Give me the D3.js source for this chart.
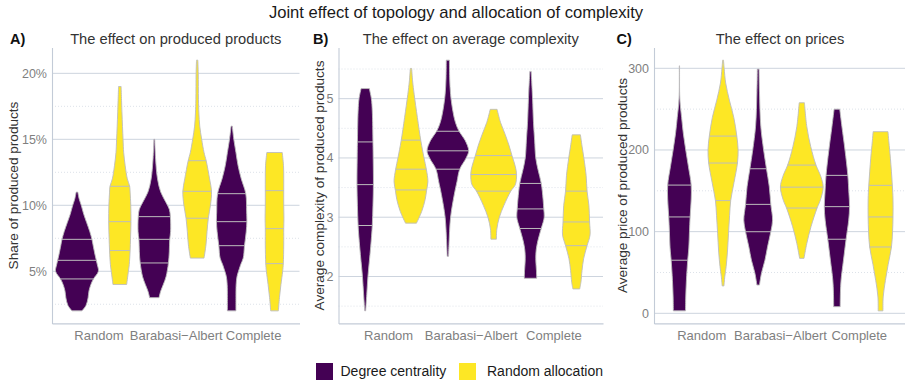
<!DOCTYPE html>
<html>
<head>
<meta charset="utf-8">
<script src="https://cdn.jsdelivr.net/npm/d3@7"></script>
<style>
  html, body { margin: 0; padding: 0; background: #ffffff; }
  svg { display: block; font-family: "Liberation Sans", Arial, Helvetica, sans-serif; }
</style>
</head>
<body>
<svg id="chart" width="905" height="381"></svg>
<script>
// ---- data -------------------------------------------------------------
const categories = ["Random", "Barabasi\u2212Albert", "Complete"];
const groups = ["Degree centrality", "Random allocation"];
const groupColors = ["#440154", "#FDE725"];

// Violin outlines: [value, relative half-width] from bottom to top, one list per category.
// Quartiles: [25%, 50%, 75%] per category.

// A) share of produced products (%)
const productsTicks = [5, 10, 15, 20];
const productsDegreeShape = [
  [[2.0,0.23],[2.4,0.42],[3.0,0.52],[3.5,0.56],[4.0,0.65],[4.42,0.77],[5.0,1.0],[5.5,0.95],[6.2,0.85],[7.0,0.75],[7.42,0.7],[8.0,0.6],[8.7,0.45],[9.3,0.32],[10.0,0.2],[10.5,0.1],[11.0,0.04]],
  [[3.0,0.22],[3.5,0.3],[4.0,0.42],[4.6,0.55],[5.63,0.66],[6.5,0.7],[7.42,0.72],[8.0,0.76],[9.14,0.75],[9.7,0.7],[10.2,0.55],[11.0,0.3],[12.0,0.15],[13.5,0.06],[15.0,0.02]],
  [[2.0,0.2],[3.0,0.2],[4.0,0.21],[4.6,0.25],[5.0,0.32],[5.5,0.42],[6.0,0.54],[6.94,0.6],[8.0,0.68],[8.76,0.71],[9.5,0.7],[10.88,0.66],[12.0,0.45],[13.0,0.3],[14.0,0.2],[15.0,0.1],[16.0,0.03]]
];
const productsDegreeQuartiles = [[4.42, 5.83, 7.42], [5.63, 7.42, 9.14], [6.94, 8.76, 10.88]];
const productsRandomShape = [
  [[4.0,0.32],[5.0,0.4],[5.5,0.44],[6.57,0.48],[7.5,0.5],[8.76,0.52],[10.0,0.51],[11.0,0.48],[11.44,0.46],[12.0,0.35],[13.0,0.25],[14.0,0.18],[15.0,0.15],[17.0,0.1],[19.0,0.06]],
  [[6.0,0.32],[7.0,0.41],[8.0,0.46],[9.02,0.52],[10.0,0.62],[11.06,0.67],[12.0,0.58],[13.38,0.42],[14.0,0.32],[15.0,0.21],[16.0,0.12],[17.0,0.08],[18.0,0.06],[20.0,0.05],[21.0,0.03]],
  [[2.0,0.18],[3.0,0.23],[4.0,0.3],[5.0,0.38],[5.58,0.41],[7.0,0.43],[8.23,0.43],[9.0,0.44],[10.0,0.43],[11.11,0.43],[12.0,0.43],[13.0,0.42],[14.0,0.36]]
];
const productsRandomQuartiles = [[6.57, 8.76, 11.44], [9.02, 11.06, 13.38], [5.58, 8.23, 11.11]];

// B) average complexity of produced products
const complexityTicks = [2, 3, 4, 5];
const complexityDegreeShape = [
  [[1.42,0.02],[1.7,0.07],[2.0,0.12],[2.25,0.18],[2.5,0.24],[2.86,0.31],[3.2,0.34],[3.55,0.36],[4.0,0.35],[4.26,0.34],[4.79,0.31],[5.0,0.27],[5.17,0.18]],
  [[2.34,0.03],[2.54,0.05],[3.0,0.12],[3.38,0.28],[3.6,0.4],[3.81,0.52],[4.0,0.8],[4.12,0.91],[4.3,0.75],[4.45,0.49],[4.6,0.33],[4.79,0.22],[5.07,0.12],[5.35,0.08],[5.65,0.07]],
  [[1.97,0.27],[2.1,0.26],[2.3,0.23],[2.45,0.25],[2.6,0.32],[2.81,0.47],[3.0,0.6],[3.14,0.58],[3.3,0.55],[3.57,0.47],[3.8,0.33],[4.0,0.23],[4.3,0.18],[4.6,0.13],[5.0,0.09],[5.46,0.03]]
];
const complexityDegreeQuartiles = [[2.86, 3.55, 4.27], [3.81, 4.12, 4.45], [2.81, 3.14, 3.57]];
const complexityRandomShape = [
  [[2.9,0.24],[3.1,0.47],[3.3,0.62],[3.45,0.68],[3.6,0.74],[3.81,0.67],[4.0,0.57],[4.29,0.43],[4.68,0.28],[5.07,0.14],[5.3,0.07],[5.51,0.03]],
  [[2.63,0.12],[2.8,0.14],[3.0,0.25],[3.2,0.45],[3.44,0.75],[3.55,0.95],[3.72,1.0],[3.85,0.95],[4.04,0.8],[4.2,0.68],[4.4,0.5],[4.6,0.3],[4.82,0.15]],
  [[1.79,0.15],[1.9,0.2],[2.1,0.25],[2.3,0.32],[2.52,0.47],[2.7,0.6],[2.92,0.58],[3.2,0.55],[3.44,0.47],[3.7,0.43],[4.0,0.33],[4.2,0.25],[4.39,0.18]]
];
const complexityRandomQuartiles = [[3.46, 3.81, 4.30], [3.44, 3.72, 4.04], [2.52, 2.92, 3.44]];

// C) average price of produced products
const priceTicks = [0, 100, 200, 300];
const priceDegreeShape = [
  [[3,0.28],[20,0.29],[40,0.32],[65,0.38],[80,0.43],[100,0.46],[118,0.49],[140,0.54],[157,0.54],[180,0.41],[200,0.29],[220,0.18],[240,0.1],[255,0.04],[270,0.01],[303,0.006]],
  [[34.6,0.06],[49,0.15],[65,0.31],[81.5,0.43],[100,0.58],[114,0.66],[133.4,0.58],[155,0.51],[177,0.38],[200,0.25],[229,0.12],[270,0.06],[299,0.04]],
  [[8.1,0.15],[25,0.16],[40.8,0.19],[65,0.3],[90.7,0.42],[114,0.54],[130.6,0.58],[147,0.55],[168.9,0.5],[200,0.37],[228.4,0.23],[250,0.13]]
];
const priceDegreeQuartiles = [[65, 118, 157], [99.9, 133.4, 177], [90.7, 130.6, 168.9]];
const priceRandomShape = [
  [[33.5,0.04],[45,0.08],[57,0.14],[75,0.2],[98,0.25],[120,0.3],[138,0.35],[160,0.5],[184,0.66],[200,0.69],[217,0.63],[240,0.49],[261,0.29],[282,0.12],[300,0.05],[310,0.02]],
  [[67.3,0.1],[85.7,0.23],[106,0.42],[128.9,0.7],[138.6,0.85],[154.5,0.98],[167.6,0.87],[181.5,0.65],[204,0.41],[228.4,0.23],[257.8,0.12]],
  [[3,0.11],[20,0.12],[40,0.22],[60,0.35],[81.2,0.5],[100,0.55],[118,0.57],[140,0.57],[156.7,0.54],[190,0.45],[210,0.38],[222.4,0.34]]
];
const priceRandomQuartiles = [[138, 184, 217], [128.9, 154.5, 181.5], [81.2, 118, 156.7]];

// ---- layout -------------------------------------------------------------
const svg = d3.select("#chart");
const plotTop = 47.6, plotBottom = 323.4;
const gridColor = "#cdd4de";
const axisColor = "#c3cbd7";
const minorColor = "#dde2e9";
const tickColor = "#7f7f7f";
const textColor = "#333333";
const outlineColor = "#bdbdbd";
const dodge = 0.277;      // centre offset of each group, in category steps
const maxHalf = 0.277;    // half-width of the widest violin, in category steps

svg.append("text")
  .attr("x", 456).attr("y", 18)
  .attr("text-anchor", "middle")
  .attr("font-size", 16.6).attr("fill", "#1a1a1a")
  .text("Joint effect of topology and allocation of complexity");

function halfWidthAt(shape, v) {
  const vals = shape.map(d => d[0]);
  const i = d3.bisectLeft(vals, v);
  if (i <= 0) return shape[0][1];
  if (i >= shape.length) return shape[shape.length - 1][1];
  const a = shape[i - 1], b = shape[i];
  return a[1] + (b[1] - a[1]) * (v - a[0]) / (b[0] - a[0]);
}

function drawPanel(cfg) {
  const g = svg.append("g");
  const values = [];
  cfg.shapes.forEach(grp => grp.forEach(s => s.forEach(p => values.push(p[0]))));
  const [lo, hi] = d3.extent(values);
  const pad = (hi - lo) * 0.05;
  const y = d3.scaleLinear().domain([lo - pad, hi + pad]).range([plotBottom, plotTop]);
  const x = d3.scalePoint().domain(categories).range([cfg.left, cfg.right]).padding(0.6);
  const step = x.step();

  // minor grid (dotted) halfway between major ticks
  const tStep = cfg.ticks[1] - cfg.ticks[0];
  const minor = [];
  for (let t = cfg.ticks[0] - tStep / 2; t <= hi + pad; t += tStep) {
    if (t >= lo - pad) minor.push(t);
  }
  g.selectAll(".minor").data(minor).join("line")
    .attr("x1", cfg.left).attr("x2", cfg.right)
    .attr("y1", d => y(d)).attr("y2", d => y(d))
    .attr("stroke", minorColor).attr("stroke-width", 1)
    .attr("stroke-dasharray", "1,2");
  g.selectAll(".major").data(cfg.ticks).join("line")
    .attr("x1", cfg.left).attr("x2", cfg.right)
    .attr("y1", d => y(d)).attr("y2", d => y(d))
    .attr("stroke", gridColor).attr("stroke-width", 1);

  // violins
  cfg.shapes.forEach((grp, gi) => {
    grp.forEach((shape, ci) => {
      const cx = x(categories[ci]) + (gi === 0 ? -1 : 1) * dodge * step;
      const w = f => f * maxHalf * step;
      const area = d3.area()
        .y(d => y(d[0]))
        .x0(d => cx - w(d[1]))
        .x1(d => cx + w(d[1]))
        .curve(d3.curveCatmullRom.alpha(0.5));
      g.append("path")
        .attr("d", area(shape))
        .attr("fill", groupColors[gi])
        .attr("stroke", outlineColor)
        .attr("stroke-width", 0.9)
        .attr("stroke-linejoin", "round");
      g.selectAll(null).data(cfg.quartiles[gi][ci]).join("line")
        .attr("x1", q => cx - w(halfWidthAt(shape, q)))
        .attr("x2", q => cx + w(halfWidthAt(shape, q)))
        .attr("y1", q => y(q)).attr("y2", q => y(q))
        .attr("stroke", outlineColor).attr("stroke-width", 1);
    });
  });

  // axes
  const ya = g.append("g").attr("transform", `translate(${cfg.left},0)`)
    .call(d3.axisLeft(y).tickValues(cfg.ticks).tickFormat(cfg.format).tickSize(0).tickPadding(5));
  const xa = g.append("g").attr("transform", `translate(0,${plotBottom})`)
    .call(d3.axisBottom(x).tickSize(0).tickPadding(7));
  [[ya, 12.5], [xa, 13]].forEach(([a, fs]) => {
    a.attr("font-family", null).attr("font-size", fs);
    a.select(".domain").attr("stroke", axisColor).attr("stroke-width", 1.1);
    a.selectAll("text").attr("fill", tickColor);
  });

  // titles
  g.append("text")
    .attr("x", (cfg.left + cfg.right) / 2).attr("y", 43.5)
    .attr("text-anchor", "middle").attr("font-size", 14.7).attr("fill", textColor)
    .text(cfg.subtitle);
  g.append("text")
    .attr("x", cfg.labelX).attr("y", 43.5)
    .attr("font-size", 14.5).attr("font-weight", "bold").attr("fill", "#111")
    .text(cfg.label);
  g.append("text")
    .attr("transform", `translate(${cfg.titleX},${(plotTop + plotBottom) / 2}) rotate(-90)`)
    .attr("text-anchor", "middle").attr("font-size", 13.6).attr("fill", textColor)
    .text(cfg.yTitle);
}

drawPanel({
  left: 52, right: 299.5, label: "A)", labelX: 10, titleX: 18,
  subtitle: "The effect on produced products",
  yTitle: "Share of produced products",
  ticks: productsTicks, format: d => d + "%",
  shapes: [productsDegreeShape, productsRandomShape],
  quartiles: [productsDegreeQuartiles, productsRandomQuartiles]
});
drawPanel({
  left: 338.5, right: 603, label: "B)", labelX: 313, titleX: 323.5,
  subtitle: "The effect on average complexity",
  yTitle: "Average complexity of produced products",
  ticks: complexityTicks, format: d => d,
  shapes: [complexityDegreeShape, complexityRandomShape],
  quartiles: [complexityDegreeQuartiles, complexityRandomQuartiles]
});
drawPanel({
  left: 654, right: 906, label: "C)", labelX: 616.5, titleX: 627,
  subtitle: "The effect on prices",
  yTitle: "Average price of produced products",
  ticks: priceTicks, format: d => d,
  shapes: [priceDegreeShape, priceRandomShape],
  quartiles: [priceDegreeQuartiles, priceRandomQuartiles]
});

// legend
const legendItems = [
  { name: groups[0], color: groupColors[0], x: 316, tx: 340.5 },
  { name: groups[1], color: groupColors[1], x: 459, tx: 487 }
];
const lg = svg.append("g");
legendItems.forEach(it => {
  lg.append("rect").attr("x", it.x).attr("y", 363).attr("width", 17).attr("height", 17)
    .attr("fill", it.color);
  lg.append("text").attr("x", it.tx).attr("y", 376).attr("font-size", 14)
    .attr("fill", "#1a1a1a").text(it.name);
});
</script>
</body>
</html>
